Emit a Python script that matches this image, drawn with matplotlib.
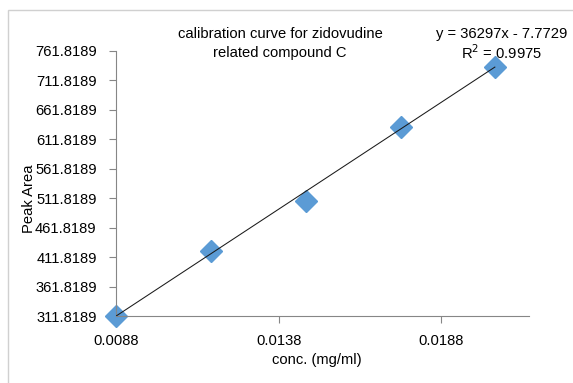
import matplotlib
matplotlib.use("Agg")
import matplotlib.pyplot as plt
import numpy as np
from matplotlib.patches import Rectangle

conc = [0.0088, 0.01172, 0.01465, 0.01756, 0.02045]
peak_area = [311.8, 422.8, 506.5, 633.3, 735.2]
slope = 36297
intercept = -7.7729
r2 = 0.9975
yticks = [311.8189 + 50 * i for i in range(10)]
xticks = [0.0088, 0.0138, 0.0188]

plt.rcParams['font.family'] = ['Liberation Sans', 'DejaVu Sans']
FS = 10.6
fig = plt.figure(figsize=(5.73, 3.83), dpi=100)
L, R, B, T = 116, 529, 316, 51
ax = fig.add_axes([L/573, 1-B/383, (R-L)/573, (B-T)/383])

# chart border
fig.patches.append(Rectangle((8/573, -0.01), 1.0, 1-10/383 + 0.01, transform=fig.transFigure,
                             fill=False, edgecolor='#d0d0d0', lw=1))

xfit = np.array([min(conc), max(conc)])
ax.plot(xfit, slope * xfit + intercept, color='#1a1a1a', lw=0.75, zorder=3)
ax.plot(conc, peak_area, linestyle='none', marker='D', markersize=11.5,
        color='#5B9BD5', clip_on=False, zorder=2)

ax.set_xlim(0.0088, 0.0215)
ax.set_ylim(yticks[0], yticks[-1])
ax.set_yticks(yticks)
ax.set_yticklabels([f"{v:.4f}" for v in yticks])
ax.set_xticks(xticks)
ax.set_xticklabels([f"{v:.4f}" for v in xticks])
for s in ['top', 'right']:
    ax.spines[s].set_visible(False)
for s in ['left', 'bottom']:
    ax.spines[s].set_color('#868686')
    ax.spines[s].set_linewidth(0.8)
ax.tick_params(direction='out', length=5, color='#868686', labelsize=FS)
ax.tick_params(axis='y', pad=9)
ax.tick_params(axis='x', pad=8)
ax.set_xlabel('conc. (mg/ml)', fontsize=FS)
ax.set_ylabel('Peak Area', fontsize=FS)
ax.xaxis.set_label_coords((317-L)/(R-L), -(353-B)/(B-T))
ax.yaxis.set_label_coords((36-L)/(R-L), (B-199)/(B-T))

fig.text(280/573, 1-34/383, 'calibration curve for zidovudine', ha='center', va='center', fontsize=FS)
fig.text(280/573, 1-53/383, 'related compound C', ha='center', va='center', fontsize=FS)
fig.text(502/573, 1-34/383, f'y = {slope}x - {abs(intercept)}', ha='center', va='center', fontsize=FS)
fig.text(502/573, 1-53/383, f'R$^2$ = {r2}', ha='center', va='center', fontsize=FS)

fig.savefig('out.png', dpi=100)
